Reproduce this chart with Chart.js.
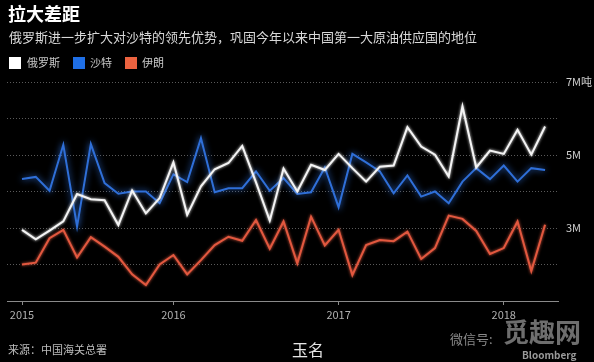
<!DOCTYPE html>
<html><head><meta charset="utf-8">
<script src="https://cdn.jsdelivr.net/npm/chart.js@4"></script>
<style>
html,body{margin:0;padding:0;background:#000;}
#wrap{position:relative;width:594px;height:362px;background:#000;overflow:hidden;font-family:"Noto Sans CJK SC","Noto Sans",sans-serif;}
canvas{position:absolute;left:0;top:0;}
.t{position:absolute;white-space:nowrap;line-height:1;}
.sq{position:absolute;width:12px;height:12px;}
</style></head><body>
<div id="wrap">
<canvas id="c" width="594" height="362"></canvas>
<div class="t" style="left:8px;top:4px;font-size:18px;font-weight:700;color:#fff">拉大差距</div>
<div class="t" style="left:9px;top:30px;font-size:13px;color:#d8d8d8">俄罗斯进一步扩大对沙特的领先优势，巩固今年以来中国第一大原油供应国的地位</div>
<div id="legend"></div>
<div class="t" style="left:8px;top:344px;font-size:11px;color:#bdbdbd">来源：中国海关总署</div>
<div class="t" style="left:292px;top:341px;font-size:16px;color:#e6e6e6">玉名</div>
<div class="t" style="left:450px;top:332px;font-size:13px;color:#8a8a8a">微信号:</div>
<div class="t" style="left:503px;top:318px;font-size:26px;font-weight:700;color:rgba(200,200,200,0.55)">觅趣网</div>
<div class="t" style="left:522px;top:350px;font-size:10px;font-weight:700;color:#9a9a9a">Bloomberg</div>
</div>
<script>
const months = ['2015-02','2015-03','2015-04','2015-05','2015-06','2015-07','2015-08','2015-09','2015-10','2015-11','2015-12',
'2016-01','2016-02','2016-03','2016-04','2016-05','2016-06','2016-07','2016-08','2016-09','2016-10','2016-11','2016-12',
'2017-01','2017-02','2017-03','2017-04','2017-05','2017-06','2017-07','2017-08','2017-09','2017-10','2017-11','2017-12',
'2018-01','2018-02','2018-03','2018-04'];
const russia = [2.95,2.69,2.93,3.18,3.93,3.79,3.76,3.08,4.03,3.40,3.82,
4.80,3.36,4.14,4.61,4.78,5.25,4.25,3.20,4.63,4.00,4.73,4.59,
5.03,4.64,4.27,4.68,4.71,5.76,5.23,5.01,4.41,6.33,4.66,5.12,
5.03,5.69,5.01,5.78];
const saudi = [4.34,4.40,4.02,5.28,3.04,5.30,4.23,3.94,4.00,4.00,3.68,
4.47,4.26,5.46,3.98,4.09,4.09,4.55,4.02,4.37,3.93,3.98,4.66,
3.57,5.03,4.80,4.55,3.95,4.44,3.86,4.00,3.68,4.27,4.64,4.34,
4.71,4.27,4.64,4.59];
const iran = [2.00,2.05,2.72,2.95,2.19,2.75,2.49,2.21,1.73,1.44,2.00,
2.26,1.73,2.12,2.53,2.76,2.65,3.22,2.43,3.18,2.03,3.31,2.52,
2.95,1.71,2.53,2.67,2.64,2.90,2.15,2.45,3.34,3.25,2.92,2.29,
2.45,3.18,1.82,3.09];
const seriesNames = ['俄罗斯','沙特','伊朗'];
const seriesColors = ['#f4f4f4','#2f6fd8','#e2583f'];
const legendColors = ['#ffffff','#1f6fe6','#ec6340'];
const yTickValues = [1,2,3,4,5,6,7];
const yTickLabels = {7:'7M吨',5:'5M',3:'3M'};
const yearTickMonths = ['2015-02','2016-01','2017-01','2018-01'];
const yearLabels = ['2015','2016','2017','2018'];

// legend
const lg = document.getElementById('legend');
const sqX = [9,73,125], txX = [27,90,142];
seriesNames.forEach((n,i)=>{
  const s=document.createElement('div'); s.className='sq';
  s.style.left=sqX[i]+'px'; s.style.top='57px'; s.style.background=legendColors[i]; lg.appendChild(s);
  const t=document.createElement('div'); t.className='t';
  t.style.left=txX[i]+'px'; t.style.top='57px'; t.style.fontSize='11px'; t.style.color='#c8c8c8'; t.textContent=n; lg.appendChild(t);
});

const seriesData=[russia,saudi,iran];
const glow = {
  id:'glow',
  beforeDatasetDraw(chart,args){const c=chart.ctx;c.save();c.shadowColor=seriesColors[args.index];c.shadowBlur=args.index===1?6:3;},
  afterDatasetDraw(chart){chart.ctx.restore();}
};
new Chart(document.getElementById('c'),{
  type:'line',
  data:{datasets:seriesData.map((d,i)=>({
    label:seriesNames[i],
    data:d.map((v,k)=>({x:k,y:v})),
    borderColor:seriesColors[i],
    borderWidth:2,
    pointRadius:0,
    tension:0,
    fill:false
  }))},
  options:{
    responsive:false,animation:false,
    layout:{padding:{top:82,left:7,right:0,bottom:41}},
    plugins:{legend:{display:false},tooltip:{enabled:false}},
    scales:{
      x:{type:'linear',min:-1.09,max:38.94,
        afterBuildTicks(s){s.ticks=yearTickMonths.map(m=>({value:months.indexOf(m)}));},
        afterFit(s){s.height=20;},
        grid:{drawOnChartArea:false,drawTicks:true,tickLength:4,color:'#8a8a8a'},
        border:{display:true,color:'#8a8a8a',width:1},
        ticks:{autoSkip:false,maxRotation:0,padding:3,color:'#b0b0b0',font:{size:11,family:'"Noto Sans CJK SC"'},
          callback(v){const i=yearTickMonths.indexOf(months[v]);return i>=0?yearLabels[i]:'';}}
      },
      y:{position:'right',min:1,max:7,
        afterBuildTicks(s){s.ticks=yTickValues.map(v=>({value:v}));},
        afterFit(s){s.width=36;},
        grid:{color:'#5a5a5a',lineWidth:1,drawTicks:false},
        border:{display:false,dash:[1,2]},
        ticks:{padding:8,color:'#cfcfcf',font:{size:11,family:'"Noto Sans CJK SC"'},
          callback(v){return yTickLabels[v]||'';}}
      }
    }
  },
  plugins:[glow]
});
</script>
</body></html>
